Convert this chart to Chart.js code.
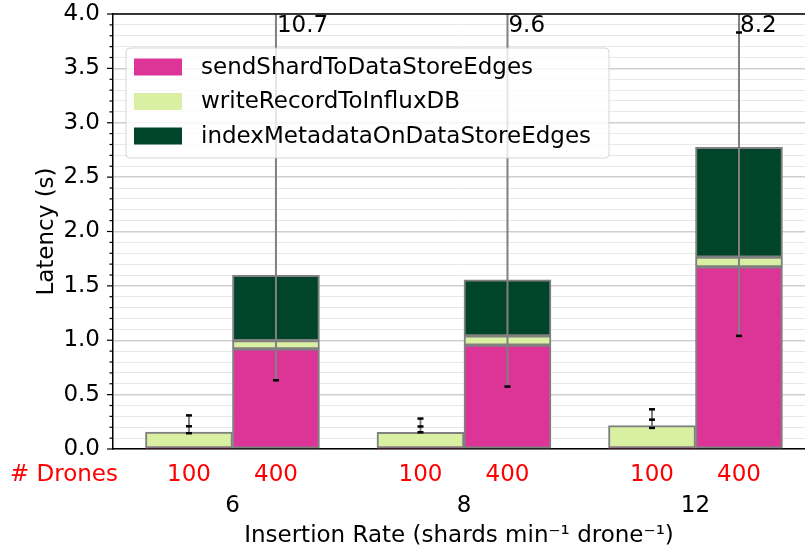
<!DOCTYPE html>
<html>
<head>
<meta charset="utf-8">
<script src="https://cdn.jsdelivr.net/npm/chart.js@4"></script>
<style>
  html, body { margin: 0; padding: 0; background: #fff; }
</style>
</head>
<body>
<canvas id="chart" width="805" height="550"></canvas>
<script>
const groups = ['6', '8', '12'];          // insertion rate
const drones = ['100', '400'];
const seriesNames = ['sendShardToDataStoreEdges', 'writeRecordToInfluxDB', 'indexMetadataOnDataStoreEdges'];
const seriesColors = ['#dd3497', '#d9f0a3', '#004529'];

// latency (s), 100 drones
const send100 = [0.01, 0.01, 0.01];
const write100 = [0.145, 0.143, 0.205];
const index100 = [0, 0, 0];
// latency (s), 400 drones
const send400 = [0.92, 0.955, 1.675];
const write400 = [0.076, 0.085, 0.09];
const index400 = [0.6, 0.515, 1.01];

// error bars
const errLow100 = [0.145, 0.154, 0.194];
const errMid100 = [0.209, 0.207, 0.27];
const errHigh100 = [0.309, 0.28, 0.365];
const errLow400 = [0.632, 0.574, 1.04];
const errMid400 = [null, null, 3.83];
const errHigh400 = [10.7, 9.6, 8.2];

const FONT = '"DejaVu Sans", sans-serif';

function makeSet(label, color, values, stack) {
  return {
    label: label,
    data: values.map((v, i) => ({ x: i, y: v })),
    backgroundColor: color,
    borderColor: '#808080',
    borderWidth: 2,
    borderSkipped: false,
    barThickness: 87,
    stack: stack
  };
}

function isMajor(v) {
  return Math.round(v * 10) % 5 === 0;
}

const extras = {
  id: 'extras',
  afterDatasetsDraw(chart) {
    const { ctx, chartArea: a, scales: { x, y } } = chart;
    const metas = [chart.getDatasetMeta(2), chart.getDatasetMeta(5)];
    const errs = [
      [errLow100, errMid100, errHigh100],
      [errLow400, errMid400, errHigh400]
    ];

    // error bars
    ctx.save();
    ctx.beginPath();
    ctx.rect(a.left, a.top, a.width, a.height);
    ctx.clip();
    metas.forEach((meta, s) => {
      const [lo, mid, hi] = errs[s];
      groups.forEach((g, i) => {
        const bx = meta.data[i].x;
        ctx.strokeStyle = '#808080';
        ctx.lineWidth = 2;
        ctx.beginPath();
        ctx.moveTo(bx, y.getPixelForValue(lo[i]));
        ctx.lineTo(bx, y.getPixelForValue(hi[i]));
        ctx.stroke();
        ctx.fillStyle = '#000';
        [lo[i], mid[i], hi[i]].forEach(v => {
          if (v === null || v > y.max) return;
          ctx.fillRect(bx - 3, y.getPixelForValue(v) - 1.25, 6, 2.5);
        });
      });
    });
    ctx.restore();

    // top spine
    ctx.save();
    ctx.strokeStyle = '#000';
    ctx.lineWidth = 1.5;
    ctx.beginPath();
    ctx.moveTo(a.left, a.top);
    ctx.lineTo(a.right, a.top);
    ctx.stroke();

    // y tick marks, major and minor
    ctx.lineWidth = 1.2;
    y.ticks.forEach(t => {
      const py = y.getPixelForValue(t.value);
      const len = isMajor(t.value) ? 6 : 3.5;
      ctx.beginPath();
      ctx.moveTo(a.left - len, py);
      ctx.lineTo(a.left, py);
      ctx.stroke();
    });

    // legend
    const lx = a.left + 13, ly = a.top + 34, lw = 483, lh = 110;
    ctx.fillStyle = 'rgba(255,255,255,0.8)';
    ctx.strokeStyle = 'rgba(204,204,204,0.8)';
    ctx.lineWidth = 1;
    ctx.beginPath();
    ctx.roundRect(lx, ly, lw, lh, 4);
    ctx.fill();
    ctx.stroke();
    ctx.font = '23px ' + FONT;
    ctx.textAlign = 'left';
    ctx.textBaseline = 'middle';
    seriesNames.forEach((name, k) => {
      const cy = ly + 19 + k * 34.5;
      ctx.fillStyle = seriesColors[k];
      ctx.fillRect(lx + 8, cy - 8.5, 48, 17);
      ctx.fillStyle = '#000';
      ctx.fillText(name, lx + 75, cy + 1);
    });

    // values that run off the top
    ctx.textBaseline = 'alphabetic';
    groups.forEach((g, i) => {
      if (errHigh400[i] > y.max) {
        ctx.fillText(errHigh400[i].toFixed(1), metas[1].data[i].x + 1, a.top + 18);
      }
    });

    // drone count row
    ctx.fillStyle = '#ff0000';
    ctx.textBaseline = 'middle';
    ctx.textAlign = 'right';
    ctx.fillText('# Drones', a.left + 5, a.bottom + 26);
    ctx.textAlign = 'center';
    metas.forEach((meta, s) => {
      groups.forEach((g, i) => {
        ctx.fillText(drones[s], meta.data[i].x, a.bottom + 26);
      });
    });
    ctx.restore();
  }
};

new Chart(document.getElementById('chart').getContext('2d'), {
  type: 'bar',
  data: {
    datasets: [
      makeSet(seriesNames[0], seriesColors[0], send100, drones[0]),
      makeSet(seriesNames[1], seriesColors[1], write100, drones[0]),
      makeSet(seriesNames[2], seriesColors[2], index100, drones[0]),
      makeSet(seriesNames[0], seriesColors[0], send400, drones[1]),
      makeSet(seriesNames[1], seriesColors[1], write400, drones[1]),
      makeSet(seriesNames[2], seriesColors[2], index400, drones[1])
    ]
  },
  options: {
    responsive: false,
    animation: false,
    devicePixelRatio: 1,
    layout: { padding: { top: 0, right: 0, left: 0, bottom: 0 } },
    plugins: {
      legend: { display: false },
      tooltip: { enabled: false }
    },
    scales: {
      x: {
        type: 'linear',
        offset: false,
        min: -0.516,
        max: 2.473,
        grid: { display: false, drawTicks: false, offset: false },
        border: { display: true, color: '#000', width: 1.5 },
        ticks: {
          stepSize: 1,
          includeBounds: false,
          padding: 43,
          color: '#000',
          font: { family: FONT, size: 23 },
          callback: v => groups[v] !== undefined ? groups[v] : ''
        },
        title: {
          display: true,
          text: 'Insertion Rate (shards min⁻¹ drone⁻¹)',
          color: '#000',
          font: { family: FONT, size: 23 },
          padding: { top: 0, bottom: 0 }
        },
        afterFit: s => { s.height = 101; s.paddingLeft = 0; s.paddingRight = 0; }
      },
      y: {
        stacked: true,
        min: 0,
        max: 4,
        grid: {
          drawTicks: false,
          color: c => isMajor(c.tick.value) ? '#cfcfcf' : '#e8e8e8',
          lineWidth: c => isMajor(c.tick.value) ? 1.5 : 1
        },
        border: { display: true, color: '#000', width: 1.5 },
        ticks: {
          stepSize: 0.1,
          autoSkip: false,
          padding: 13,
          color: '#000',
          font: { family: FONT, size: 23 },
          callback: v => isMajor(v) ? v.toFixed(1) : ''
        },
        title: {
          display: true,
          text: 'Latency (s)',
          color: '#000',
          font: { family: FONT, size: 23 },
          padding: { top: 33, bottom: 0 }
        },
        afterFit: s => { s.width = 113; s.paddingTop = 14; s.paddingBottom = 0; }
      }
    }
  },
  plugins: [extras]
});
</script>
</body>
</html>
